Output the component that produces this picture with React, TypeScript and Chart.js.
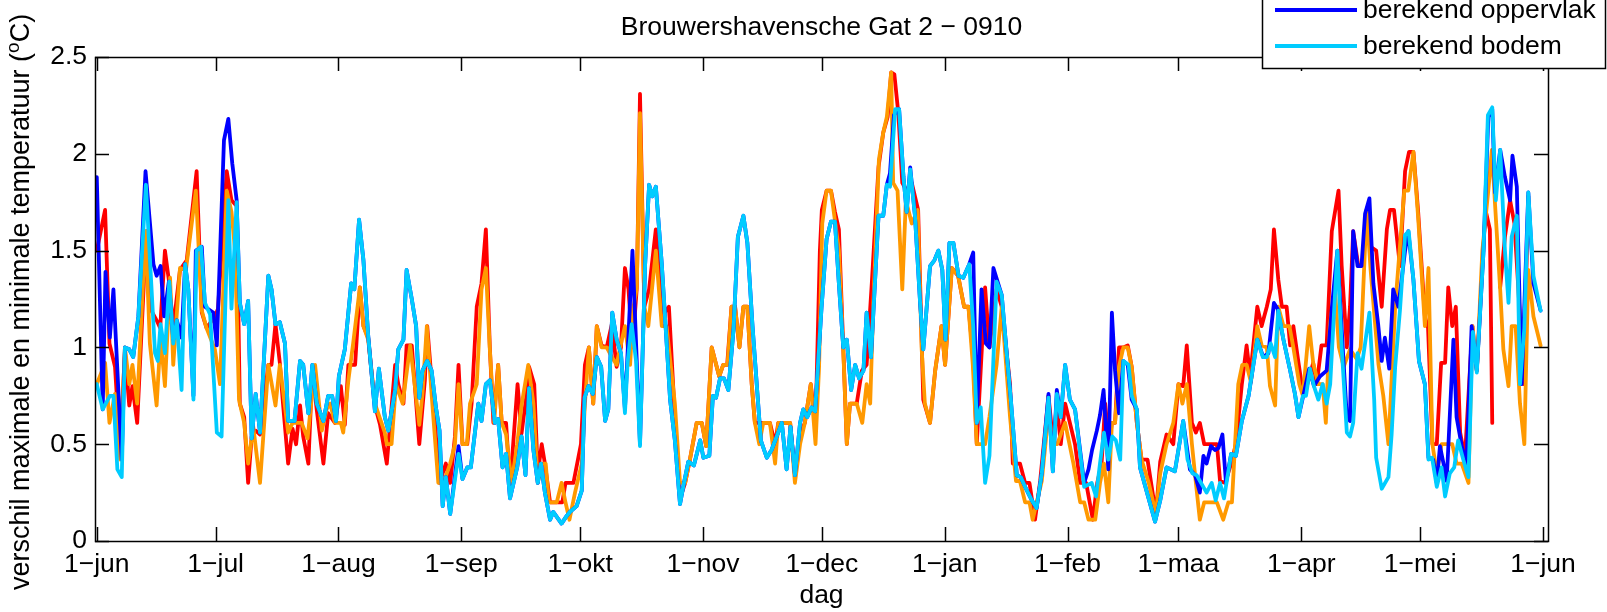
import React, { useEffect, useRef } from 'react';
import { Chart, registerables } from 'chart.js';

Chart.register(...registerables);

// ---- axis definitions ----
const tickDays = [0, 30, 61, 92, 122, 153, 183, 214, 245, 273, 304, 334, 365];
const tickLabels = ['1\u2212jun', '1\u2212jul', '1\u2212aug', '1\u2212sep', '1\u2212okt', '1\u2212nov', '1\u2212dec', '1\u2212jan', '1\u2212feb', '1\u2212maa', '1\u2212apr', '1\u2212mei', '1\u2212jun'];
const yTicks = [0, 0.5, 1, 1.5, 2, 2.5];
const titleText = 'Brouwershavensche Gat 2 \u2212 0910';
const xTitle = 'dag';
const yTitleMain = 'verschil maximale en minimale temperatuur (';
const yTitleSup = 'o';
const yTitleEnd = 'C)';
const seriesNames = ['gemeten oppervlak', 'gemeten bodem', 'berekend oppervlak', 'berekend bodem'];
const seriesColors = ['#ff0000', '#ff9900', '#0000ff', '#00ccff'];

// ---- data: [day since 1-jun, value] ----
const gemetenOppervlak: [number, number | null][] = [[0,1.5],[2.1,1.71],[3.2,1.02],[4.6,0.9],[5.9,0.47],[7.1,0.98],[8.2,0.7],[9,0.8],[10.2,0.61],[12.5,1.6],[13.5,1.2],[15.1,1.14],[16,1.1],[17.2,1.5],[18.3,1.33],[19.3,1.1],[21,1.4],[22.7,1.45],[25.2,1.91],[26.5,1.18],[27.7,1.1],[29.8,1.16],[30.6,1.2],[32.8,1.91],[34,1.76],[35.3,1.73],[36.1,0.71],[37.2,0.64],[38.2,0.3],[39.1,0.54],[40.1,0.57],[41.2,0.55],[43.3,0.91],[44.1,0.91],[45.1,1.12],[46.2,0.92],[47,0.71],[48.3,0.4],[49.4,0.58],[50.3,0.5],[51.3,0.7],[52.1,0.54],[53.4,0.4],[54.4,0.88],[55.5,0.68],[57.2,0.4],[58.4,0.66],[60.1,0.61],[61.6,0.8],[62.6,0.6],[63.5,0.91],[65.2,0.91],[66.4,1.31],[67.3,1.11],[68.5,1.05],[70.2,0.7],[71.5,0.6],[73.2,0.4],[75.3,0.91],[76.1,0.81],[77.4,0.71],[78.2,1.01],[79.5,1.01],[81.4,0.5],[82.8,0.83],[83.4,1.11],[84.5,0.83],[86.5,0.3],[88.1,0.4],[89.2,0.3],[90.4,0.54],[91.3,0.91],[92.3,0.5],[93.5,0.5],[94.6,0.71],[95.9,1.21],[97.1,1.33],[98.2,1.61],[99.2,1.0],[100.1,0.61],[101.3,0.91],[102.2,0.61],[103.3,0.61],[104.3,0.28],[106.2,0.81],[107.2,0.555],[108.5,0.76],[109.1,0.9],[110.4,0.81],[111.3,0.35],[112.3,0.5],[113.1,0.4],[114.4,0.2],[116.5,0.2],[117.5,0.2],[118.3,0.3],[120.3,0.3],[122.2,0.5],[123.2,0.91],[124.2,1.0],[125.3,0.71],[126.2,1.11],[127.4,1.01],[128.7,1.0],[130,1.12],[131.2,0.9],[132.3,1.0],[133.3,1.41],[134.2,1.3],[135.2,1.0],[136.3,1.31],[137.1,2.31],[138.2,1.21],[139.4,1.3],[141.1,1.61],[142.6,1.16],[144.4,1.21],[145.9,0.64],[147.2,0.22],[148.5,0.3],[149.7,0.42],[151.4,0.61],[152.7,0.61],[153.8,0.49],[155.2,1.0],[157.1,0.85],[158.1,0.91],[159.1,0.91],[160.2,1.21],[161.1,1.21],[162.2,1.0],[163.2,1.21],[164.2,1.21],[165.3,0.81],[166.1,0.61],[167.2,0.61],[168.2,0.61],[169.9,0.61],[171.2,0.5],[172,0.61],[173.3,0.61],[175,0.61],[176.2,0.35],[177.5,0.55],[178.7,0.61],[180.2,0.81],[181.4,0.6],[182.5,1.5],[183,1.71],[184.2,1.81],[185.3,1.81],[186.3,1.7],[187.3,1.61],[188.4,1.0],[189.3,0.5],[190.1,0.71],[191.8,0.71],[193.1,0.88],[194.3,0.91],[195.6,1.33],[197.3,1.93],[198.5,2.11],[199.6,2.19],[200.5,2.42],[201.3,2.41],[202.3,2.21],[203.3,1.85],[204.4,1.81],[205.7,1.85],[207.3,1.71],[208.6,0.73],[210.3,0.61],[211.6,0.88],[213.2,1.11],[214.1,0.91],[215.8,1.41],[217.4,1.37],[218.9,1.21],[220,1.21],[221.2,0.95],[222.1,0.5],[224.2,1.31],[225.3,1.0],[227.1,1.3],[228.4,1.21],[230.5,0.81],[231.2,0.4],[233,0.4],[234.3,0.3],[235.4,0.3],[236.8,0.11],[238.1,0.31],[240.2,0.75],[241.4,0.5],[242.3,0.71],[243.3,0.5],[244.4,0.71],[245.6,0.61],[246.9,0.5],[248.2,0.3],[249.7,0.3],[251.4,0.11],[252.5,0.3],[253.6,0.4],[254.5,0.71],[255.5,0.5],[256.2,0.61],[257,0.61],[258,1.0],[259.1,1.0],[260.2,1.01],[261.2,0.9],[262.5,0.61],[263.7,0.42],[265.2,0.42],[267.3,0.14],[268.4,0.41],[270,0.55],[271.7,0.5],[273,0.81],[274.2,0.8],[275.1,1.01],[276.4,0.61],[277.4,0.56],[278.4,0.61],[279.5,0.5],[281.4,0.5],[282.7,0.5],[283.5,0.31],[284.8,0.3],[286,0.38],[287.5,0.5],[289,0.81],[290.2,1.01],[291.1,0.85],[292.9,1.21],[294,1.11],[295.3,1.21],[296.3,1.3],[297.1,1.61],[298.2,1.35],[299.1,1.21],[300.3,1.21],[301.2,1.01],[302,1.11],[303.3,0.92],[304.1,0.81],[305.4,0.8],[307,0.92],[307.9,0.81],[309.1,1.01],[310.4,1.01],[311.7,1.6],[313.4,1.81],[314.2,1.42],[315.5,1.0],[316.3,1.21],[317.1,1.6],[318.4,1.42],[319.5,1.43],[320.5,1.71],[321.5,1.52],[322.9,1.5],[324.3,1.21],[325.6,1.61],[326.4,1.71],[327.4,1.71],[328.9,1.42],[330.2,1.91],[331.2,2.01],[332.3,2.01],[333.5,1.7],[335.2,1.16],[336,1.1],[337.1,0.5],[338.2,0.5],[339.3,0.92],[340.3,0.92],[341.1,1.31],[342.1,1.11],[343,1.21],[344.1,0.56],[345.3,0.43],[347.2,1.11],[348.3,0.88],[349.7,1.42],[350.5,1.71],[351.6,1.61],[352.2,0.61],[353.2,null],[354.2,1.31],[355.4,1.57],[356.7,1.76],[357.8,1.64],[358.8,1.3],[360.1,0.81],[361.3,1.78]];

const gemetenBodem: [number, number | null][] = [[0,0.81],[2.1,0.92],[3.2,0.61],[4.6,0.76],[5.9,0.42],[7.1,1.0],[8.2,0.81],[9,0.91],[10.2,0.71],[12.3,1.6],[13.4,1.02],[15.1,0.7],[16.1,1.05],[17.2,0.8],[18.5,1.36],[19.3,0.91],[21,1.41],[22.5,1.4],[25,1.81],[26.5,1.19],[27.7,1.1],[29.8,0.99],[31.1,0.81],[32.8,1.81],[34,1.7],[34.9,1.5],[35.9,0.73],[37.2,0.61],[38.2,0.4],[39.5,0.59],[41.2,0.3],[43.3,0.91],[45.1,0.7],[46.2,0.91],[48.3,0.56],[49.4,0.61],[51.7,0.61],[53.2,0.53],[55.1,0.91],[56.8,0.57],[58,0.68],[58.9,0.71],[60.1,0.61],[61.6,0.61],[62.2,0.56],[63.5,0.83],[64.7,1.02],[66.4,1.31],[67.3,1.11],[68.5,1.04],[70.2,0.71],[72.7,0.56],[73.2,0.5],[74.4,0.5],[75.5,0.81],[77.2,0.71],[79.1,1.01],[81.4,0.6],[82.2,0.76],[83.3,1.11],[84.5,0.76],[86.2,0.3],[87.5,0.3],[89.2,0.4],[90.4,0.5],[91.3,0.81],[92.3,0.5],[93.4,0.5],[94.2,0.71],[95.9,0.81],[97.1,1.3],[98.2,1.41],[99.2,0.99],[100.3,0.61],[101.3,0.91],[102.2,0.61],[103.3,0.55],[104.7,0.3],[106.1,0.5],[107.2,0.7],[108.9,0.91],[110.2,0.71],[111.3,0.3],[112.3,0.4],[113.3,0.4],[114.1,0.2],[116.1,0.2],[117.3,0.3],[118.3,0.2],[119.3,0.11],[120.7,0.25],[122.4,0.4],[123.2,0.71],[124.2,1.0],[125.3,0.71],[126.2,1.11],[127.4,1.0],[128.7,1.0],[130,0.95],[131.2,0.91],[132.1,1.0],[133.3,1.11],[134.6,0.91],[135.4,1.2],[136.3,1.31],[137.1,2.21],[138.2,1.21],[139.2,1.11],[141.1,1.5],[142.6,1.11],[143.8,1.11],[145.9,0.71],[147.2,0.3],[148.5,0.3],[149.7,0.42],[151.4,0.61],[152.7,0.61],[153.8,0.49],[155.2,1.0],[157.1,0.85],[158.1,0.91],[159.2,0.91],[160.2,1.21],[161.1,1.21],[162.2,1.0],[163.2,1.21],[164.2,1.21],[165.3,0.81],[166.1,0.61],[167.2,0.5],[168.2,0.61],[169.9,0.61],[171.2,0.4],[172,0.61],[173.3,0.61],[175,0.61],[176.2,0.3],[177.5,0.5],[178.7,0.61],[180.2,0.81],[181.4,0.5],[182.3,0.9],[183.1,1.64],[184.2,1.81],[185.3,1.81],[187.3,1.5],[188.4,0.99],[189.3,0.5],[190.1,0.71],[191.8,0.71],[193.2,0.61],[194.3,0.81],[195.2,0.71],[196,1.23],[197.4,1.97],[198.5,2.11],[199.4,2.19],[200.5,2.42],[201,1.85],[202.1,1.81],[203.3,1.3],[204.2,1.76],[205.7,1.64],[207.2,1.71],[208.2,0.99],[209,0.71],[210.3,0.61],[211.6,0.88],[213.2,1.11],[214.1,0.91],[215.8,1.41],[217.4,1.37],[218.9,1.21],[220,1.21],[221.1,0.91],[222.1,0.5],[223.1,0.5],[224.2,0.5],[225.3,0.64],[227.1,0.91],[228.4,1.21],[230.5,0.64],[232,0.31],[233,0.31],[234.3,0.2],[235.4,0.2],[236.2,0.11],[238.5,0.31],[240.2,0.66],[241.4,0.5],[242.4,0.5],[244.4,0.61],[246.5,0.4],[248.2,0.2],[249.2,0.2],[250.3,0.11],[252,0.11],[253.2,0.3],[254.2,0.4],[255.3,0.2],[256.2,0.61],[257,0.61],[258,0.9],[259.1,1.0],[260.2,1.0],[261.2,0.9],[262.5,0.61],[263.7,0.42],[265.5,0.3],[267.3,0.14],[268.4,0.35],[270,0.5],[271.7,0.61],[273,0.81],[274,0.71],[275.1,0.81],[276.4,0.5],[277.4,0.3],[278.4,0.11],[279.5,0.2],[281.4,0.2],[282.7,0.2],[284.3,0.11],[285.6,0.2],[286.5,0.2],[288.1,0.81],[289.1,0.91],[290.2,0.91],[291.3,0.82],[292.9,1.11],[294,1.01],[295.3,1.0],[296.1,0.8],[297.4,0.7],[298.2,1.21],[299.5,1.11],[301,1.11],[302,1.0],[303.5,0.81],[304.4,0.75],[306,1.11],[307,0.92],[308.3,0.81],[309.4,0.81],[310.2,0.61],[311.2,1.11],[312.5,1.3],[313.5,1.0],[314.7,0.9],[316.3,0.99],[318,0.94],[319,1.0],[320.5,1.71],[321.5,1.4],[323.5,0.91],[324.7,0.75],[326,0.5],[327.7,1.21],[330,1.81],[331,1.81],[332.3,2.01],[333.5,1.67],[335.2,1.11],[336.1,1.41],[337.1,0.5],[338.2,0.35],[339.4,0.5],[341.1,0.5],[342.1,0.5],[343.2,0.4],[344.5,0.4],[346.2,0.3],[347.2,1.11],[348.3,0.88],[349.7,1.5],[351.2,1.81],[352.1,2.02],[352.9,1.74],[354.2,1.3],[355,0.99],[356.3,0.8],[357.1,1.11],[358.1,1.11],[359.2,0.71],[360.3,0.5],[361.3,1.4],[362.6,1.16],[364.4,1.01]];

const berekendOppervlak: [number, number | null][] = [[0,1.88],[1.5,0.68],[2.2,1.39],[3.3,1.05],[4.2,1.3],[6.3,0.42],[7.1,1.0],[8.2,0.99],[9.2,0.95],[10.5,1.16],[12.3,1.91],[14.3,1.43],[15.1,1.37],[16.1,1.42],[17,1.16],[18.2,1.34],[19.3,1.04],[20.2,1.14],[21.4,1.05],[22.3,1.43],[23.1,1.3],[24.4,0.75],[25,1.5],[26.5,1.52],[27.3,1.21],[29.4,1.18],[30.3,1.01],[32.1,2.07],[33.2,2.18],[34.2,1.95],[35.3,1.76],[36.1,1.23],[37.2,1.12],[38.2,1.24],[39.1,0.53],[40.1,0.76],[41.2,0.56],[43.3,1.37],[44.1,1.3],[45.1,1.12],[46.2,1.13],[47.5,1.02],[48.3,0.62],[49.9,0.62],[51.3,0.93],[52.1,0.91],[53.4,0.66],[54.4,0.91],[55.5,0.71],[57.2,0.62],[58.4,0.75],[59.4,0.75],[60.4,0.62],[61.1,0.85],[62.6,0.99],[64.2,1.33],[65,1.3],[66.2,1.66],[67.3,1.45],[68.5,1.06],[70.2,0.67],[71.2,0.89],[72.7,0.64],[73.6,0.57],[75.3,0.78],[76.1,0.99],[77.4,1.04],[78.2,1.4],[79.5,1.25],[80.6,1.11],[81.4,0.74],[82.2,0.88],[83.4,0.93],[84.5,0.88],[85.6,0.69],[86.5,0.57],[87.3,0.18],[88.1,0.33],[89.2,0.14],[91.3,0.49],[92.3,0.32],[93.5,0.38],[94.4,0.38],[96.3,0.71],[97.1,0.62],[98.2,0.81],[99.2,0.83],[100.5,0.61],[101.3,0.63],[102.4,0.38],[103.3,0.45],[104.3,0.22],[106.1,0.38],[107.2,0.54],[108.2,0.34],[109.1,0.79],[110.2,0.47],[111.3,0.3],[112.1,0.4],[113.1,0.25],[114.4,0.11],[115.2,0.15],[117.3,0.09],[118.6,0.13],[119.4,0.15],[121.1,0.18],[122.4,0.26],[123.1,0.74],[124.1,0.8],[125.2,0.76],[126.2,0.95],[127.3,0.9],[128.3,0.62],[129.1,0.68],[130.1,1.18],[131.2,1.04],[132.3,0.97],[133.3,0.68],[135.2,1.5],[137.1,0.5],[138.4,1.43],[139.4,1.84],[140.2,1.78],[141.1,1.83],[142.6,1.43],[144.7,0.73],[145.9,0.52],[147.2,0.19],[148.2,0.3],[149.3,0.41],[150.7,0.39],[152.3,0.52],[153.1,0.43],[154.6,0.44],[155.5,0.75],[156.3,0.74],[157.3,0.84],[158.3,0.84],[159.4,0.78],[160.7,1.09],[161.8,1.57],[163.2,1.68],[164.2,1.54],[165.5,1.11],[167.6,0.52],[169.1,0.43],[170.3,0.47],[171.6,0.54],[172.9,0.61],[174.1,0.37],[175.1,0.59],[176.2,0.34],[177.5,0.61],[178.3,0.68],[179.3,0.64],[180.4,0.69],[181.3,0.67],[182.9,1.2],[184.2,1.56],[185.3,1.65],[186.3,1.65],[187.3,1.33],[188.4,1.0],[189.3,1.04],[190.4,0.78],[191.4,0.91],[192.4,0.84],[193.5,0.88],[194.3,1.18],[195.4,0.95],[197.3,1.68],[198.5,1.68],[199.4,1.84],[200.2,1.9],[201.2,2.2],[202.5,2.23],[203.6,1.88],[204.4,1.7],[205.3,1.93],[206.5,1.68],[207.8,1.23],[208.6,0.99],[210.3,1.42],[211.4,1.45],[212.4,1.5],[213.4,1.4],[214.2,1.04],[215.2,1.54],[216.2,1.54],[217.5,1.37],[218.7,1.36],[220.2,1.43],[221.2,1.49],[222.1,0.61],[223.3,1.3],[224.4,1.02],[225.3,1.0],[226.3,1.41],[227.5,1.33],[228.4,1.27],[229.7,0.96],[230.7,0.73],[232.2,0.34],[233.2,0.33],[234.3,0.28],[236,0.21],[237.2,0.17],[238.5,0.35],[240.2,0.76],[241.3,0.36],[242.3,0.78],[243.3,0.64],[244.4,0.91],[245.6,0.73],[246.9,0.68],[249.2,0.3],[250.3,0.37],[251.2,0.47],[252.4,0.57],[253.2,0.65],[254.1,0.78],[255.3,0.37],[256.2,1.18],[257,0.88],[258,0.66],[259.1,0.93],[260.2,0.91],[261.2,0.73],[262.5,0.68],[263.3,0.38],[267.1,0.1],[268.4,0.21],[270,0.38],[272.1,0.36],[274.2,0.62],[275.9,0.37],[277.2,0.34],[278.4,0.25],[279.3,0.44],[280.1,0.4],[281.2,0.49],[282.2,0.47],[283.1,0.48],[284.1,0.55],[285,0.3],[286.3,0.45],[287.5,0.44],[289,0.62],[290.7,0.75],[292.9,1.04],[294.4,0.95],[295.7,0.97],[297.1,1.23],[298,1.2],[299.5,1.04],[301.2,0.88],[302.4,0.76],[303.3,0.64],[304.5,0.75],[306,0.89],[307.2,0.8],[308.7,0.85],[310.4,0.88],[311.7,1.2],[313.1,1.5],[314.6,0.95],[315.5,0.64],[316.3,0.62],[317.1,1.6],[318.2,1.42],[319.2,1.42],[320.1,1.69],[321.2,1.77],[322.2,1.33],[323.4,1.12],[324.3,0.93],[325.1,1.05],[326.2,0.89],[327.2,1.3],[328.5,1.21],[330.2,1.5],[331,1.6],[332.3,1.35],[333.7,0.93],[335.2,0.81],[336.1,0.43],[337.3,0.42],[338.2,0.3],[339,0.49],[339.9,0.4],[340.7,0.31],[342.4,1.04],[343.2,0.64],[344.5,0.49],[345.7,0.4],[347,1.11],[348.3,0.88],[350,1.5],[351.2,2.19],[352.2,2.23],[352.9,1.8],[354.2,2.02],[355.4,1.88],[356.7,1.76],[357.3,1.99],[358.4,1.83],[359.6,0.81],[361.3,1.8],[362.6,1.33],[364.4,1.19]];

const berekendBodem: [number, number | null][] = [[0,0.81],[1.5,0.68],[3.3,0.75],[4.2,0.75],[5.2,0.37],[6.3,0.33],[7.1,1.0],[8.2,0.99],[9.2,0.95],[10.5,1.16],[12.4,1.84],[14.7,0.97],[15.4,0.93],[16.1,1.12],[17.2,0.97],[18.3,1.34],[19.3,1.02],[20.2,1.14],[21.4,0.78],[22.3,1.43],[23.1,1.3],[24.4,0.73],[25.2,1.5],[26.3,1.52],[27.3,1.23],[28.6,1.17],[30.3,0.56],[31.5,0.54],[33.2,1.76],[34,1.2],[35.3,1.75],[36.1,1.23],[37.2,1.12],[38.2,1.24],[39.1,0.53],[40.1,0.76],[41.2,0.56],[43.3,1.37],[44.1,1.3],[45.1,1.12],[46.2,1.13],[47.5,1.02],[48.3,0.62],[49.9,0.62],[51.3,0.93],[52.1,0.91],[53.4,0.66],[54.4,0.91],[55.5,0.71],[57.2,0.62],[58.4,0.75],[59.4,0.75],[60.4,0.62],[61.1,0.85],[62.6,0.99],[64.2,1.33],[65,1.3],[66.2,1.66],[67.3,1.45],[68.5,1.06],[70.2,0.67],[71.2,0.89],[72.7,0.64],[73.6,0.57],[75.3,0.78],[76.1,0.99],[77.4,1.04],[78.2,1.4],[79.5,1.25],[80.6,1.11],[81.4,0.74],[82.2,0.88],[83.4,0.93],[84.5,0.88],[85.6,0.69],[86.5,0.57],[87.3,0.18],[88.1,0.33],[89.2,0.14],[91.3,0.45],[92.3,0.32],[93.5,0.38],[94.4,0.38],[96.3,0.71],[97.1,0.62],[98.2,0.81],[99.2,0.83],[100.5,0.61],[101.3,0.63],[102.4,0.38],[103.3,0.45],[104.3,0.22],[106.1,0.38],[107.2,0.54],[108.2,0.34],[109.1,0.79],[110.2,0.47],[111.3,0.3],[112.1,0.4],[113.1,0.25],[114.4,0.11],[115.2,0.15],[117.3,0.09],[118.6,0.13],[119.4,0.15],[121.1,0.18],[122.4,0.26],[123.1,0.74],[124.1,0.8],[125.2,0.76],[126.2,0.95],[127.3,0.9],[128.3,0.62],[129.1,0.68],[130.1,1.18],[131.2,1.04],[132.3,0.97],[133.3,0.66],[134,0.93],[135,1.12],[136.1,0.93],[137.1,0.49],[138.4,1.43],[139.4,1.84],[140.2,1.78],[141.1,1.83],[142.6,1.43],[144.7,0.73],[145.9,0.52],[147.2,0.19],[148.2,0.3],[149.3,0.41],[150.7,0.39],[152.3,0.52],[153.1,0.43],[154.6,0.44],[155.5,0.75],[156.3,0.74],[157.3,0.84],[158.3,0.84],[159.4,0.78],[160.7,1.09],[161.8,1.57],[163.2,1.68],[164.2,1.54],[165.5,1.11],[167.6,0.52],[169.1,0.43],[170.3,0.47],[171.6,0.54],[172.9,0.61],[174.1,0.37],[175.1,0.59],[176.2,0.34],[177.5,0.61],[178.3,0.68],[179.3,0.64],[180.4,0.69],[181.3,0.67],[182.9,1.2],[184.2,1.56],[185.3,1.65],[186.3,1.65],[187.3,1.33],[188.4,1.0],[189.3,1.04],[190.4,0.78],[191.4,0.91],[192.4,0.84],[193.5,0.88],[194.3,1.18],[195.4,0.95],[197.3,1.68],[198.5,1.68],[199.4,1.84],[200.2,1.83],[201.5,2.23],[202.5,2.23],[203.6,1.88],[204.4,1.7],[205.3,1.92],[206.5,1.68],[207.8,1.23],[208.6,0.99],[210.3,1.42],[211.4,1.45],[212.4,1.5],[213.4,1.4],[214.2,1.04],[215.2,1.54],[216.2,1.54],[217.5,1.37],[218.7,1.36],[220.2,1.43],[221.2,1.11],[222.1,0.61],[223.1,0.69],[224.2,0.3],[225.3,0.44],[227.1,1.34],[228.4,1.27],[229.7,0.96],[230.7,0.73],[232.2,0.34],[233.2,0.33],[234.3,0.28],[236,0.21],[237.2,0.17],[238.5,0.35],[240.2,0.74],[241.3,0.36],[242.3,0.76],[243.3,0.64],[244.4,0.91],[245.6,0.73],[246.9,0.68],[249.2,0.28],[251.1,0.3],[252.2,0.23],[253.2,0.4],[254.2,0.56],[255.3,0.42],[256.3,0.54],[257.2,0.52],[258.3,0.42],[259.1,0.93],[260.4,0.91],[261.2,0.75],[262.5,0.68],[263.3,0.38],[267.1,0.1],[268.4,0.21],[270,0.38],[272.1,0.36],[274.2,0.62],[275.3,0.42],[276.5,0.35],[277.6,0.34],[278.7,0.3],[280.1,0.25],[281.4,0.3],[282.4,0.21],[283.5,0.3],[284.5,0.22],[286.3,0.45],[287.5,0.44],[289,0.62],[290.7,0.75],[292.9,1.04],[294.3,0.95],[295.3,0.95],[296.3,1.02],[297.4,0.95],[298.2,1.19],[299.5,1.04],[301.2,0.88],[302.4,0.76],[303.3,0.64],[304.4,0.75],[305.2,0.75],[306.2,0.89],[307.2,0.8],[308.3,0.73],[309.4,0.81],[310.4,0.71],[311.3,0.81],[313.1,1.5],[314.2,1.0],[315.5,0.56],[316.3,0.54],[317.1,0.61],[318.2,0.97],[319.2,0.89],[321.2,1.18],[322.4,0.73],[322.9,0.43],[324.3,0.27],[326,0.33],[326.8,0.55],[327.7,0.9],[328.9,1.19],[330.2,1.58],[331.1,1.6],[332.3,1.35],[333.7,0.93],[335.2,0.81],[336.1,0.42],[337,0.43],[338.2,0.28],[339.4,0.38],[340.3,0.23],[341.5,0.35],[342.6,0.38],[343.6,0.52],[344.9,0.42],[346.2,0.33],[347.3,1.08],[348.3,0.87],[350,1.5],[351.1,2.2],[352.2,2.24],[353.1,1.76],[354.2,2.02],[355.4,1.5],[356.3,1.23],[357.1,1.57],[358.4,1.68],[359.2,0.81],[360.3,1.1],[361.3,1.8],[362.6,1.37],[364.4,1.19]];

const allSeries = [gemetenOppervlak, gemetenBodem, berekendOppervlak, berekendBodem];

const FONT = '"Liberation Sans", Arial, Helvetica, sans-serif';
const FS = 26.5;
const TICK_LEN = 14;
const LINE_W = 3.8;

const decorPlugin = {
  id: 'decor',
  afterDatasetsDraw(chart: any) {
    const { ctx, chartArea: ca, scales } = chart;
    const xs = scales.x;
    const ys = scales.y;
    ctx.save();
    ctx.strokeStyle = '#000';
    ctx.lineWidth = 1.5;
    ctx.beginPath();
    for (const d of tickDays) {
      const px = Math.round(xs.getPixelForValue(d)) + 0.5;
      ctx.moveTo(px, ca.bottom);
      ctx.lineTo(px, ca.bottom - TICK_LEN);
      ctx.moveTo(px, ca.top);
      ctx.lineTo(px, ca.top + TICK_LEN);
    }
    for (const v of yTicks) {
      const py = Math.round(ys.getPixelForValue(v)) + 0.5;
      ctx.moveTo(ca.left, py);
      ctx.lineTo(ca.left + TICK_LEN, py);
      ctx.moveTo(ca.right, py);
      ctx.lineTo(ca.right - TICK_LEN, py);
    }
    ctx.stroke();
    ctx.strokeRect(ca.left + 0.5, ca.top + 0.5, ca.right - ca.left, ca.bottom - ca.top);

    // title and x title
    ctx.fillStyle = '#000';
    ctx.font = `${FS}px ${FONT}`;
    ctx.textAlign = 'center';
    ctx.textBaseline = 'middle';
    const cx = (ca.left + ca.right) / 2;
    ctx.fillText(titleText, cx, 28);
    ctx.fillText(xTitle, cx, 596);

    // y title with superscript
    const yfs = 27;
    ctx.translate(22, 302);
    ctx.rotate(-Math.PI / 2);
    ctx.textAlign = 'left';
    const supFont = `${Math.round(yfs * 0.7)}px ${FONT}`;
    const mainFont = `${yfs}px ${FONT}`;
    ctx.font = mainFont;
    const w1 = ctx.measureText(yTitleMain).width;
    const w3 = ctx.measureText(yTitleEnd).width;
    ctx.font = supFont;
    const w2 = ctx.measureText(yTitleSup).width;
    let sx = -(w1 + w2 + w3) / 2;
    ctx.font = mainFont;
    ctx.fillText(yTitleMain, sx, 0);
    sx += w1;
    ctx.font = supFont;
    ctx.fillText(yTitleSup, sx, -8);
    sx += w2;
    ctx.font = mainFont;
    ctx.fillText(yTitleEnd, sx, 0);
    ctx.restore();

    // legend box (top cut off by the canvas edge)
    ctx.save();
    const lx = 1262, rx = 1605, by = 68, ty = -100;
    ctx.fillStyle = '#fff';
    ctx.fillRect(lx, ty, rx - lx, by - ty);
    ctx.strokeStyle = '#000';
    ctx.lineWidth = 1.5;
    ctx.strokeRect(lx + 0.5, ty, rx - lx, by - ty + 0.5);
    const rowY = [-62, -26, 10, 46];
    ctx.font = `${FS}px ${FONT}`;
    ctx.textAlign = 'left';
    ctx.textBaseline = 'middle';
    seriesNames.forEach((name, i) => {
      ctx.strokeStyle = seriesColors[i];
      ctx.lineWidth = LINE_W;
      ctx.beginPath();
      ctx.moveTo(1275, rowY[i]);
      ctx.lineTo(1357, rowY[i]);
      ctx.stroke();
      ctx.fillStyle = '#000';
      ctx.fillText(name, 1363, rowY[i] + 1);
    });
    ctx.restore();
  },
};

export default function App() {
  const canvasRef = useRef<HTMLCanvasElement | null>(null);

  useEffect(() => {
    if (!canvasRef.current) return;
    const datasets = allSeries.map((pts, i) => ({
      label: seriesNames[i],
      data: pts.map(([d, v]) => ({ x: d, y: v })),
      borderColor: seriesColors[i],
      backgroundColor: seriesColors[i],
      borderWidth: LINE_W,
      pointRadius: 0,
      tension: 0,
      spanGaps: false,
      borderJoinStyle: 'round' as const,
      borderCapStyle: 'round' as const,
      order: 4 - i,
    }));
    const chart = new Chart(canvasRef.current, {
      type: 'line',
      data: { datasets },
      plugins: [decorPlugin],
      options: {
        responsive: false,
        animation: false,
        devicePixelRatio: 1,
        layout: { padding: { top: 57, right: 59, left: 0, bottom: 0 } },
        plugins: { legend: { display: false }, tooltip: { enabled: false }, title: { display: false } },
        scales: {
          x: {
            type: 'linear',
            min: -0.45,
            max: 366.27,
            grid: { display: false, drawTicks: false },
            border: { display: false },
            afterFit: (s: any) => { s.height = 71; },
            afterBuildTicks: (s: any) => { s.ticks = tickDays.map((v) => ({ value: v })); },
            ticks: {
              autoSkip: false,
              maxRotation: 0,
              padding: 8,
              color: '#000',
              font: { family: FONT, size: FS },
              callback: (v: any) => tickLabels[tickDays.indexOf(Number(v))] ?? '',
            },
          },
          y: {
            type: 'linear',
            min: 0,
            max: 2.5,
            grid: { display: false, drawTicks: false },
            border: { display: false },
            afterFit: (s: any) => { s.width = 95; },
            afterBuildTicks: (s: any) => { s.ticks = yTicks.map((v) => ({ value: v })); },
            ticks: {
              padding: 8,
              color: '#000',
              font: { family: FONT, size: FS },
              callback: (v: any) => String(v),
            },
          },
        },
      },
    });
    return () => chart.destroy();
  }, []);

  return (
    <div style={{ position: 'absolute', left: 0, top: 0, width: 1607, height: 612, background: '#fff' }}>
      <canvas ref={canvasRef} width={1607} height={612} style={{ display: 'block' }} />
    </div>
  );
}
